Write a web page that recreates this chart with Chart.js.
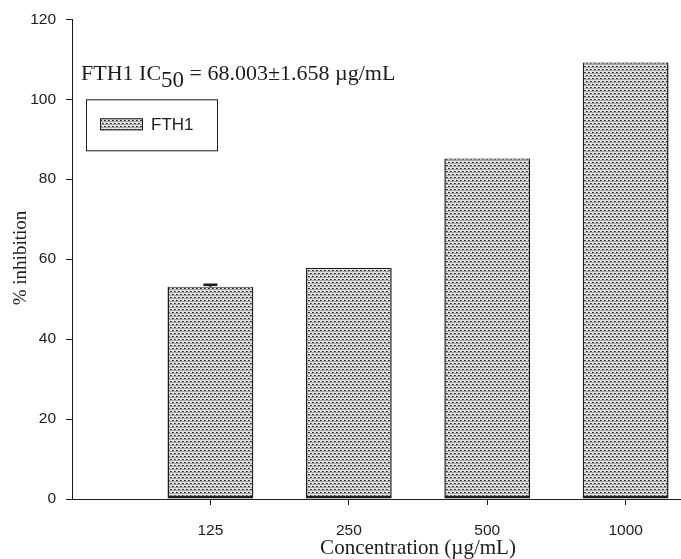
<!DOCTYPE html>
<html>
<head>
<meta charset="utf-8">
<script src="https://cdn.jsdelivr.net/npm/chart.js@4.4.1/dist/chart.umd.min.js"></script>
<style>
  html, body { margin: 0; padding: 0; background: #fff; }
  #wrap { width: 681px; height: 559px; }
</style>
</head>
<body>
<div id="wrap"><canvas id="chart" width="681" height="559"></canvas></div>
<script>
'use strict';

// ---- data ----
const concentrations = ['125', '250', '500', '1000'];
const inhibition = [53.1, 57.8, 85.2, 109.2];
const inhibitionSD = [0.5, 0, 0, 0];
const seriesName = 'FTH1';
const ic50Parts = ['FTH1 IC', '50', ' = 68.003\u00b11.658 \u00b5g/mL'];
const xTitle = 'Concentration (\u00b5g/mL)';
const yTitle = '% inhibition';

const SANS = "'Liberation Sans', Arial, sans-serif";
const SERIF = "'Liberation Serif', 'Times New Roman', serif";
const INK = '#1c1c1c';

// stippled grey fill used by the bars and the legend swatch
function dotPattern(ctx) {
  const c = document.createElement('canvas');
  c.width = 4; c.height = 6;
  const g = c.getContext('2d');
  g.fillStyle = '#e2e2e2'; g.fillRect(0, 0, 4, 6);
  g.fillStyle = '#a6a6a6'; g.fillRect(0, 1, 4, 1); g.fillRect(0, 4, 4, 1);
  g.fillStyle = '#1e1e1e'; g.fillRect(0, 0, 1, 1); g.fillRect(2, 3, 1, 1);
  g.fillStyle = '#585858'; g.fillRect(1, 0, 1, 1); g.fillRect(3, 3, 1, 1);
  return ctx.createPattern(c, 'repeat');
}

const canvas = document.getElementById('chart');
const fill = dotPattern(canvas.getContext('2d'));

// error bars (upward only) on top of each bar
const errorBars = {
  id: 'errorBars',
  afterDatasetsDraw(chart) {
    const { ctx } = chart;
    const y = chart.scales.y;
    chart.getDatasetMeta(0).data.forEach((bar, i) => {
      const sd = inhibitionSD[i];
      if (!sd) return;
      const top = y.getPixelForValue(inhibition[i] + sd);
      ctx.save();
      ctx.strokeStyle = INK;
      ctx.lineWidth = 2.5;
      ctx.beginPath();
      ctx.moveTo(bar.x, bar.y);
      ctx.lineTo(bar.x, top);
      ctx.moveTo(bar.x - 7, top);
      ctx.lineTo(bar.x + 7, top);
      ctx.stroke();
      ctx.restore();
    });
  }
};

// IC50 note, boxed legend and axis titles
const annotations = {
  id: 'annotations',
  afterDraw(chart) {
    const { ctx, chartArea: a } = chart;
    ctx.save();

    // IC50 line with subscript
    let x = a.left + 9;
    const base = a.top + 61;
    ctx.fillStyle = INK;
    ctx.textBaseline = 'alphabetic';
    ctx.textAlign = 'left';
    ctx.font = `22px ${SERIF}`;
    ctx.fillText(ic50Parts[0], x, base);
    x += ctx.measureText(ic50Parts[0]).width;
    ctx.font = `23px ${SERIF}`;
    ctx.fillText(ic50Parts[1], x, base + 7);
    x += ctx.measureText(ic50Parts[1]).width;
    ctx.font = `22px ${SERIF}`;
    ctx.fillText(ic50Parts[2], x, base);

    // legend box
    const lx = a.left + 14, ly = a.top + 80;
    ctx.strokeStyle = INK;
    ctx.lineWidth = 1;
    ctx.strokeRect(lx + 0.5, ly + 0.5, 131, 51);
    ctx.fillStyle = fill;
    ctx.fillRect(lx + 14, ly + 19, 43, 12);
    ctx.strokeRect(lx + 14.5, ly + 19.5, 42, 11);
    ctx.fillStyle = INK;
    ctx.font = `17px ${SANS}`;
    ctx.textBaseline = 'middle';
    ctx.fillText(seriesName, lx + 65, ly + 26);

    // x title centred under the bars
    const xs = chart.scales.x;
    const first = xs.getPixelForValue(1);
    const last = xs.getPixelForValue(concentrations.length);
    ctx.font = `21px ${SERIF}`;
    ctx.textAlign = 'center';
    ctx.textBaseline = 'alphabetic';
    ctx.fillText(xTitle, (first + last) / 2, 554);

    // y title
    ctx.translate(26, 258);
    ctx.rotate(-Math.PI / 2);
    ctx.font = `19px ${SERIF}`;
    ctx.fillText(yTitle, 0, 0);
    ctx.restore();
  }
};

new Chart(canvas, {
  type: 'bar',
  data: {
    datasets: [{
      label: seriesName,
      data: inhibition.map((v, i) => ({ x: i + 1, y: v })),
      backgroundColor: fill,
      borderColor: INK,
      borderWidth: { top: 1, left: 1.5, right: 1.5, bottom: 3 },
      borderSkipped: false,
      barPercentage: 0.62,
      categoryPercentage: 1
    }]
  },
  options: {
    responsive: false,
    animation: false,
    layout: { padding: { top: 19, right: 0, bottom: 0, left: 0 } },
    plugins: {
      legend: { display: false },
      tooltip: { enabled: false }
    },
    scales: {
      x: {
        type: 'linear',
        offset: false,
        min: 0,
        max: 4.4,
        afterBuildTicks(s) { s.ticks = concentrations.map((_, i) => ({ value: i + 1 })); },
        afterFit(s) { s.height = 60; },
        grid: { offset: false, drawOnChartArea: false, tickLength: 6, color: INK, tickColor: INK },
        border: { color: INK, width: 1 },
        ticks: {
          padding: 16,
          color: INK,
          font: { family: SANS, size: 15.5 },
          callback: v => concentrations[v - 1]
        }
      },
      y: {
        min: 0,
        max: 120,
        afterFit(s) { s.width = 72; },
        grid: { drawOnChartArea: false, tickLength: 6, color: INK, tickColor: INK },
        border: { color: INK, width: 1 },
        ticks: {
          stepSize: 20,
          padding: 10,
          color: INK,
          font: { family: SANS, size: 15.5 }
        }
      }
    }
  },
  plugins: [errorBars, annotations]
});
</script>
</body>
</html>
